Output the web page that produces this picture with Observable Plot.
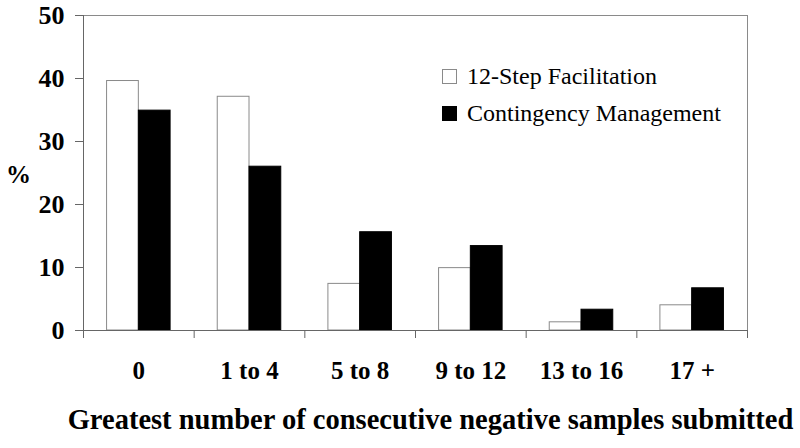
<!DOCTYPE html>
<html>
<head>
<meta charset="utf-8">
<script src="https://cdn.jsdelivr.net/npm/d3@7"></script>
<script src="https://cdn.jsdelivr.net/npm/@observablehq/plot@0.6"></script>
<style>
  html, body { margin: 0; padding: 0; background: #fff; }
  #wrap { position: relative; width: 800px; height: 448px; font-family: 'Liberation Serif', 'Times New Roman', serif; }
  #legend { position: absolute; left: 442px; top: 62px; font-family: 'Liberation Serif', 'Times New Roman', serif; font-size: 24px; color: #000; }
  #legend .row { display: flex; align-items: center; height: 28px; margin-bottom: 9px; }
  #legend .sw { width: 15px; height: 15px; margin-right: 10px; box-sizing: border-box; }
</style>
</head>
<body>
<div id="wrap"></div>
<script>
const categories = ["0", "1 to 4", "5 to 8", "9 to 12", "13 to 16", "17 +"];
const seriesNames = ["12-Step Facilitation", "Contingency Management"];
const twelveStep = [39.6, 37.1, 7.4, 9.9, 1.3, 4.0];
const contingency = [34.9, 26.0, 15.6, 13.4, 3.3, 6.7];
const yTicks = [0, 10, 20, 30, 40, 50];
const xLabel = "Greatest number of consecutive negative samples submitted";
const yLabel = "%";

const font = "'Liberation Serif', 'Times New Roman', serif";
const rows = [];
categories.forEach((c, i) => {
  rows.push({cat: c, i, s: 0, series: seriesNames[0], value: twelveStep[i]});
  rows.push({cat: c, i, s: 1, series: seriesNames[1], value: contingency[i]});
});
const pad = 0.213, bw = (1 - 2 * pad) / 2;

const chart = Plot.plot({
  width: 800,
  height: 448,
  marginLeft: 83,
  marginRight: 53,
  marginTop: 15,
  marginBottom: 118,
  style: `font-family: ${font}; background: #fff; overflow: visible;`,
  x: {type: "linear", domain: [0, categories.length]},
  y: {domain: [0, 50]},
  marks: [
    Plot.frame({stroke: "#8a8a8a", strokeWidth: 1}),
    Plot.rectY(rows, {
      x1: d => d.i + pad + d.s * bw,
      x2: d => d.i + pad + (d.s + 1) * bw,
      y1: 0,
      y2: "value",
      fill: d => d.s === 0 ? "#fff" : "#000",
      stroke: d => d.s === 0 ? "#8a8a8a" : "#000",
      strokeWidth: 1,
      inset: 0
    }),
    Plot.ruleX([0], {stroke: "#666"}),
    Plot.ruleY([0], {stroke: "#666"}),
    Plot.axisY({ticks: yTicks, tickSize: 8, tickPadding: 11, tickFormat: d => String(d),
      fontSize: 26, fontWeight: "bold", fontFamily: font, fill: "#000", stroke: "#666", label: null}),
    Plot.axisX({ticks: d3.range(categories.length + 1), tickSize: 8, tickFormat: () => "",
      stroke: "#666", label: null}),
    Plot.axisX({ticks: categories.map((c, i) => i + 0.5), tickSize: 0, tickPadding: 31,
      tickFormat: v => categories[Math.floor(v)], fontSize: 25, fontWeight: "bold", fontFamily: font, fill: "#000", label: null}),
    Plot.text([yLabel], {frameAnchor: "left", text: d => d, textAnchor: "middle", dx: -65, dy: 2, fontSize: 25, fontWeight: "bold", fontFamily: font, fill: "#000"}),
    Plot.text([xLabel], {frameAnchor: "bottom", text: d => d, textAnchor: "middle", dx: 15, dy: 98, fontSize: 28.5, fontWeight: "bold", fontFamily: font, fill: "#000"})
  ]
});
const wrap = document.getElementById("wrap");
wrap.appendChild(chart);

const legend = document.createElement("div");
legend.id = "legend";
seriesNames.forEach((name, k) => {
  const row = document.createElement("div");
  row.className = "row";
  const sw = document.createElement("span");
  sw.className = "sw";
  sw.style.background = k === 0 ? "#fff" : "#000";
  sw.style.border = k === 0 ? "1px solid #8a8a8a" : "1px solid #000";
  const t = document.createElement("span");
  t.textContent = name;
  row.appendChild(sw);
  row.appendChild(t);
  legend.appendChild(row);
});
wrap.appendChild(legend);
</script>
</body>
</html>
